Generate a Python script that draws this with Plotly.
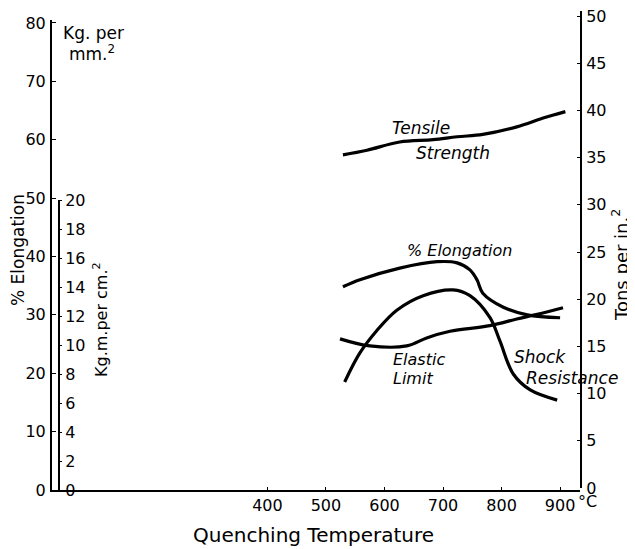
import plotly.graph_objects as go

# ---- data ----
tensile_temp = [529, 570, 626, 683, 724, 768, 826, 871, 909]
tensile_kg_mm2 = [57.4, 58.2, 59.6, 60.0, 60.5, 60.9, 62.2, 63.7, 64.8]

elong_temp = [529, 558, 626, 690, 724, 746, 758, 768, 803, 844, 900]
elong_pct = [34.8, 36.0, 38.0, 39.1, 38.9, 37.7, 36.0, 33.7, 31.3, 30.0, 29.5]

elastic_temp = [524, 575, 638, 672, 712, 780, 826, 861, 905]
elastic_tons = [15.8, 15.05, 15.05, 15.9, 16.6, 17.2, 17.9, 18.4, 19.1]

shock_temp = [532, 558, 587, 621, 666, 717, 746, 780, 797, 820, 849, 895]
shock_kgm_cm2 = [7.45, 9.45, 11.0, 12.4, 13.4, 13.8, 13.4, 11.9, 10.3, 8.0, 6.9, 6.2]

x_ticks = [400, 500, 600, 700, 800, 900]
left_ticks = [0, 10, 20, 30, 40, 50, 60, 70, 80]
kgm_ticks = [0, 2, 4, 6, 8, 10, 12, 14, 16, 18, 20]
tons_ticks = [0, 5, 10, 15, 20, 25, 30, 35, 40, 45, 50]

FONT = "DejaVu Sans"
# the page body adds an 8px offset, so the figure is 8px smaller
W, H = 627, 541
L, R, T, B = 44, 55, 3, 59
PW, PH = W - L - R, H - T - B
TOP_REF = 8 + T          # reference y of the plot-area top
BOT_REF = 8 + H - B      # reference y of the plot-area bottom (490)


def px(x):  # reference pixel x -> paper
    return (x - 52) / PW


def py(y):  # reference pixel y -> paper
    return (BOT_REF - y) / PH


line_style = dict(color="black", width=3.2)

fig = go.Figure()
fig.add_trace(go.Scatter(x=tensile_temp, y=tensile_kg_mm2, mode="lines",
                         line=dict(shape="spline", **line_style), yaxis="y"))
fig.add_trace(go.Scatter(x=elong_temp, y=elong_pct, mode="lines",
                         line=dict(shape="spline", **line_style), yaxis="y"))
fig.add_trace(go.Scatter(x=elastic_temp, y=elastic_tons, mode="lines",
                         line=dict(shape="spline", **line_style), yaxis="y3"))
fig.add_trace(go.Scatter(x=shock_temp, y=shock_kgm_cm2, mode="lines",
                         line=dict(shape="spline", **line_style), yaxis="y2"))

tickfont = dict(family=FONT, size=16, color="black")

# tons axis: 0 at y=488, 50 at y=16 (reference pixels)
tons_top = 50 * (488 - TOP_REF) / (488 - 16)

fig.update_layout(
    width=W, height=H,
    margin=dict(l=L, r=R, t=T, b=B),
    paper_bgcolor="white", plot_bgcolor="rgba(0,0,0,0)",
    showlegend=False,
    xaxis=dict(range=[32, 934], tickvals=x_ticks, showgrid=False, zeroline=False,
               showline=True, linecolor="black", linewidth=2,
               ticks="inside", ticklen=3, tickcolor="black",
               tickfont=tickfont, anchor="y", automargin=False),
    yaxis=dict(range=[0, 80.5], domain=[0, py(20)], tickvals=left_ticks,
               showgrid=False, zeroline=False, showline=True, linecolor="black",
               linewidth=2, ticks="inside", ticklen=4, tickcolor="black",
               tickfont=tickfont, ticklabelstandoff=1, anchor="x", side="left",
               automargin=False, ticklabeloverflow="allow"),
    yaxis2=dict(range=[0, 20], domain=[0, py(200)], tickvals=kgm_ticks,
                showgrid=False, zeroline=False, showline=True, linecolor="black",
                linewidth=2, ticks="outside", ticklen=2, tickcolor="black",
                tickfont=tickfont, ticklabelstandoff=0, anchor="free",
                position=px(59), side="right", automargin=False),
    yaxis3=dict(range=[0, tons_top], domain=[py(488), 1], tickvals=tons_ticks,
                showgrid=False, zeroline=False, showline=True, linecolor="black",
                linewidth=2, ticks="inside", ticklen=3, tickcolor="black",
                tickfont=tickfont, ticklabelstandoff=1, anchor="x", side="right",
                automargin=False, ticklabeloverflow="allow"),
)


def ann(text, x, y, size=15, angle=0, italic=False, xanchor="center"):
    if italic:
        text = "<i>" + text + "</i>"
    fig.add_annotation(text=text, x=px(x), y=py(y), xref="paper", yref="paper",
                       showarrow=False, textangle=angle, xanchor=xanchor,
                       yanchor="middle",
                       font=dict(family=FONT, size=size, color="black"))


# axis titles
ann("% Elongation", 18, 250, size=17, angle=-90)
ann("Kg.m.per cm.<sup>2</sup>", 100, 320, size=16, angle=-90)
ann("Tons per in.<sup>2</sup>", 620, 265, size=18, angle=-90)
ann("Kg. per", 61, 33, size=17, xanchor="left")
ann("mm.<sup>2</sup>", 67, 53, size=17, xanchor="left")
ann("Quenching Temperature", 313, 535, size=20)
ann("°C", 587, 501, size=16)

# curve labels
ann("Tensile", 421, 128, size=17, italic=True)
ann("Strength", 453, 153, size=17, italic=True)
ann("% Elongation", 459, 250, size=16, italic=True)
ann("Elastic", 419, 359, size=16, italic=True)
ann("Limit", 413, 378, size=16, italic=True)
ann("Shock", 540, 357, size=17, italic=True)
ann("Resistance", 572, 378, size=17, italic=True)

fig.write_html("out.html")
